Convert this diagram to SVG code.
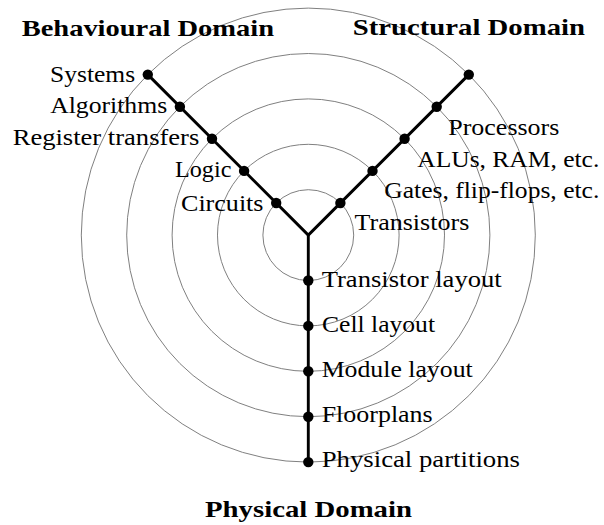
<svg xmlns="http://www.w3.org/2000/svg" width="604" height="525" viewBox="0 0 604 525">
  <style>
    .ring { fill: none; stroke: #808080; stroke-width: 1; }
    .axis { fill: none; stroke: #000; stroke-width: 2.9; stroke-linejoin: miter; stroke-linecap: butt; }
    .dot { fill: #000; }
    .lbl { font-family: 'Liberation Serif', 'DejaVu Serif', serif; font-size: 24px; fill: #000; }
    .title { font-family: 'Liberation Serif', 'DejaVu Serif', serif; font-size: 24px; font-weight: bold; fill: #000; }
  </style>
  <rect width="604" height="525" fill="#fff"/>

  <!-- abstraction level rings -->
  <g id="rings">
    <circle class="ring" cx="308.3" cy="235.1" r="45.4"/>
    <circle class="ring" cx="308.3" cy="235.1" r="90.8"/>
    <circle class="ring" cx="308.3" cy="235.1" r="136.2"/>
    <circle class="ring" cx="308.3" cy="235.1" r="181.6"/>
    <circle class="ring" cx="308.3" cy="235.1" r="227"/>
  </g>

  <!-- the three domain axes -->
  <g id="connectors">
    <polyline class="axis" points="147.8,74.6 308.3,235.1 468.8,74.6"/>
    <line class="axis" x1="308.3" y1="235.1" x2="308.3" y2="462.1"/>
  </g>

  <!-- domain titles -->
  <g id="title-behavioural">
    <text class="title" x="21.7" y="35.5" textLength="252.3" lengthAdjust="spacingAndGlyphs">Behavioural Domain</text>
  </g>
  <g id="title-structural">
    <text class="title" x="352.7" y="35" textLength="232.3" lengthAdjust="spacingAndGlyphs">Structural Domain</text>
  </g>
  <g id="title-physical">
    <text class="title" x="205" y="517" textLength="207" lengthAdjust="spacingAndGlyphs">Physical Domain</text>
  </g>

  <!-- behavioural levels -->
  <g id="b-systems">
    <circle class="dot" cx="147.8" cy="74.6" r="5.2"/>
    <text class="lbl" x="50.1" y="81.5" textLength="85" lengthAdjust="spacingAndGlyphs">Systems</text>
  </g>
  <g id="b-algorithms">
    <circle class="dot" cx="179.9" cy="106.7" r="5.2"/>
    <text class="lbl" x="50.2" y="113.3" textLength="117" lengthAdjust="spacingAndGlyphs">Algorithms</text>
  </g>
  <g id="b-register-transfers">
    <circle class="dot" cx="212" cy="138.8" r="5.2"/>
    <text class="lbl" x="12.7" y="145" textLength="186.6" lengthAdjust="spacingAndGlyphs">Register transfers</text>
  </g>
  <g id="b-logic">
    <circle class="dot" cx="244.1" cy="170.9" r="5.2"/>
    <text class="lbl" x="175" y="176.8" textLength="56.4" lengthAdjust="spacingAndGlyphs">Logic</text>
  </g>
  <g id="b-circuits">
    <circle class="dot" cx="276.2" cy="203" r="5.2"/>
    <text class="lbl" x="181" y="210.5" textLength="82.5" lengthAdjust="spacingAndGlyphs">Circuits</text>
  </g>

  <!-- structural levels -->
  <g id="s-outer">
    <circle class="dot" cx="468.8" cy="74.6" r="5.2"/>
  </g>
  <g id="s-processors">
    <circle class="dot" cx="436.7" cy="106.7" r="5.2"/>
    <text class="lbl" x="448.3" y="135" textLength="111" lengthAdjust="spacingAndGlyphs">Processors</text>
  </g>
  <g id="s-alus">
    <circle class="dot" cx="404.6" cy="138.8" r="5.2"/>
    <text class="lbl" x="417.3" y="166.7" textLength="182" lengthAdjust="spacingAndGlyphs">ALUs, RAM, etc.</text>
  </g>
  <g id="s-gates">
    <circle class="dot" cx="372.5" cy="170.9" r="5.2"/>
    <text class="lbl" x="384.3" y="198.3" textLength="215" lengthAdjust="spacingAndGlyphs">Gates, flip-flops, etc.</text>
  </g>
  <g id="s-transistors">
    <circle class="dot" cx="340.4" cy="203" r="5.2"/>
    <text class="lbl" x="354.5" y="230" textLength="114.8" lengthAdjust="spacingAndGlyphs">Transistors</text>
  </g>

  <!-- physical levels -->
  <g id="p-transistor-layout">
    <circle class="dot" cx="308.3" cy="280.5" r="5.2"/>
    <text class="lbl" x="321.7" y="286.7" textLength="180" lengthAdjust="spacingAndGlyphs">Transistor layout</text>
  </g>
  <g id="p-cell-layout">
    <circle class="dot" cx="308.3" cy="325.9" r="5.2"/>
    <text class="lbl" x="322" y="331.8" textLength="113" lengthAdjust="spacingAndGlyphs">Cell layout</text>
  </g>
  <g id="p-module-layout">
    <circle class="dot" cx="308.3" cy="371.3" r="5.2"/>
    <text class="lbl" x="321.7" y="377" textLength="151" lengthAdjust="spacingAndGlyphs">Module layout</text>
  </g>
  <g id="p-floorplans">
    <circle class="dot" cx="308.3" cy="416.7" r="5.2"/>
    <text class="lbl" x="321.7" y="422.2" textLength="111" lengthAdjust="spacingAndGlyphs">Floorplans</text>
  </g>
  <g id="p-physical-partitions">
    <circle class="dot" cx="308.3" cy="462.1" r="5.2"/>
    <text class="lbl" x="321.7" y="467.4" textLength="198.3" lengthAdjust="spacingAndGlyphs">Physical partitions</text>
  </g>
</svg>
